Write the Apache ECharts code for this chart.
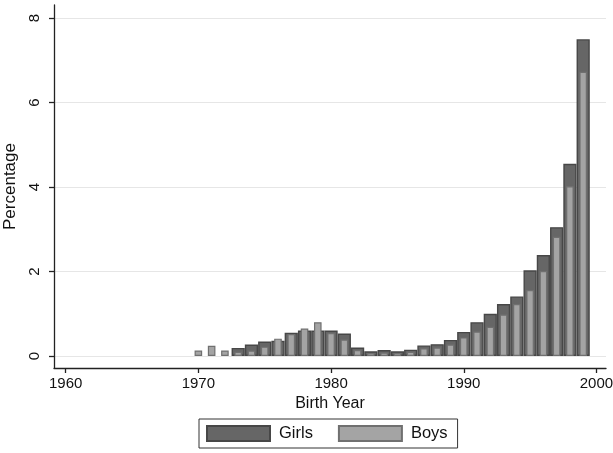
<!DOCTYPE html>
<html>
<head>
<meta charset="utf-8">
<script src="https://cdn.jsdelivr.net/npm/echarts@6/dist/echarts.min.js"></script>
<style>
html,body{margin:0;padding:0;background:#fff;}
#chart{width:613px;height:453px;}
</style>
</head>
<body>
<div id="chart"></div>
<script>
const years = [1970,1971,1972,1973,1974,1975,1976,1977,1978,1979,1980,1981,1982,1983,1984,1985,1986,1987,1988,1989,1990,1991,1992,1993,1994,1995,1996,1997,1998,1999];
const girls = [0,0,0,0.19,0.27,0.34,0.36,0.55,0.60,0.60,0.60,0.53,0.20,0.11,0.14,0.11,0.15,0.25,0.28,0.38,0.57,0.80,1.00,1.23,1.41,2.03,2.39,3.05,4.55,7.50];
const boys  = [0.13,0.24,0.13,0.10,0.13,0.22,0.41,0.52,0.65,0.80,0.54,0.39,0.14,0.07,0.08,0.07,0.10,0.18,0.20,0.27,0.44,0.58,0.69,0.98,1.23,1.56,2.01,2.82,4.02,6.73];
const xTicks = [1960,1970,1980,1990,2000];
const yTicks = [0,2,4,6,8];

const FONT = 'Liberation Sans';
const chart = echarts.init(document.getElementById('chart'), null, {renderer:'canvas'});

function pairs(vals){ return years.map((y,i)=> vals[i] === 0 ? [y,'-'] : [y, vals[i]]); }

const xBase = {
  type:'value', min:1959.12, max:2000.72
};

chart.setOption({
  animation:false,
  backgroundColor:'#fff',
  grid:{left:54, right:7, top:5, bottom:85, outerBoundsMode:'none', containLabel:false},
  xAxis:[
    Object.assign({}, xBase, {
      name:'Birth Year', nameLocation:'middle', nameGap:28,
      nameTextStyle:{fontFamily:FONT, fontSize:16, color:'#111'},
      axisLine:{show:true, onZero:false, lineStyle:{color:'#222', width:1.3}},
      axisTick:{show:true, length:5, customValues:xTicks, lineStyle:{color:'#222', width:1.3}},
      axisLabel:{show:true, customValues:xTicks, margin:8, fontFamily:FONT, fontSize:15, color:'#111',
                 formatter:v => String(Math.round(v))},
      splitLine:{show:false}
    }),
    Object.assign({}, xBase, {show:false, splitLine:{show:false}})
  ],
  yAxis:{
    type:'value', min:-0.285, max:8.31,
    name:'Percentage', nameLocation:'middle', nameGap:32, nameRotate:90,
    nameTextStyle:{fontFamily:FONT, fontSize:17, color:'#111'},
    axisLine:{show:true, onZero:false, lineStyle:{color:'#222', width:1.3}},
    axisTick:{show:true, length:5, customValues:yTicks, lineStyle:{color:'#222', width:1.3}},
    axisLabel:{show:true, customValues:yTicks, rotate:90, margin:12, fontFamily:FONT, fontSize:15, color:'#111'},
    splitLine:{show:true, lineStyle:{color:'#e6e6e6', width:1}}
  },
  legend:{
    left:199, top:419, orient:'horizontal',
    padding:[6,10,6,7], itemGap:25, itemWidth:63, itemHeight:15,
    borderColor:'#333', borderWidth:1, borderRadius:0,
    icon:'rect',
    textStyle:{fontFamily:FONT, fontSize:16.5, color:'#111', padding:[0,0,0,4]},
    data:['Girls','Boys']
  },
  series:[
    {
      name:'Girls', type:'bar', xAxisIndex:0, barWidth:13.2,
      data:pairs(girls),
      itemStyle:{color:'#666666', borderColor:'#474747', borderWidth:1.4}
    },
    {
      name:'Boys', type:'bar', xAxisIndex:1, barWidth:7.6,
      data:pairs(boys),
      itemStyle:{color:'#a4a4a4', borderColor:'#707070', borderWidth:1.2}
    }
  ]
});
</script>
</body>
</html>
